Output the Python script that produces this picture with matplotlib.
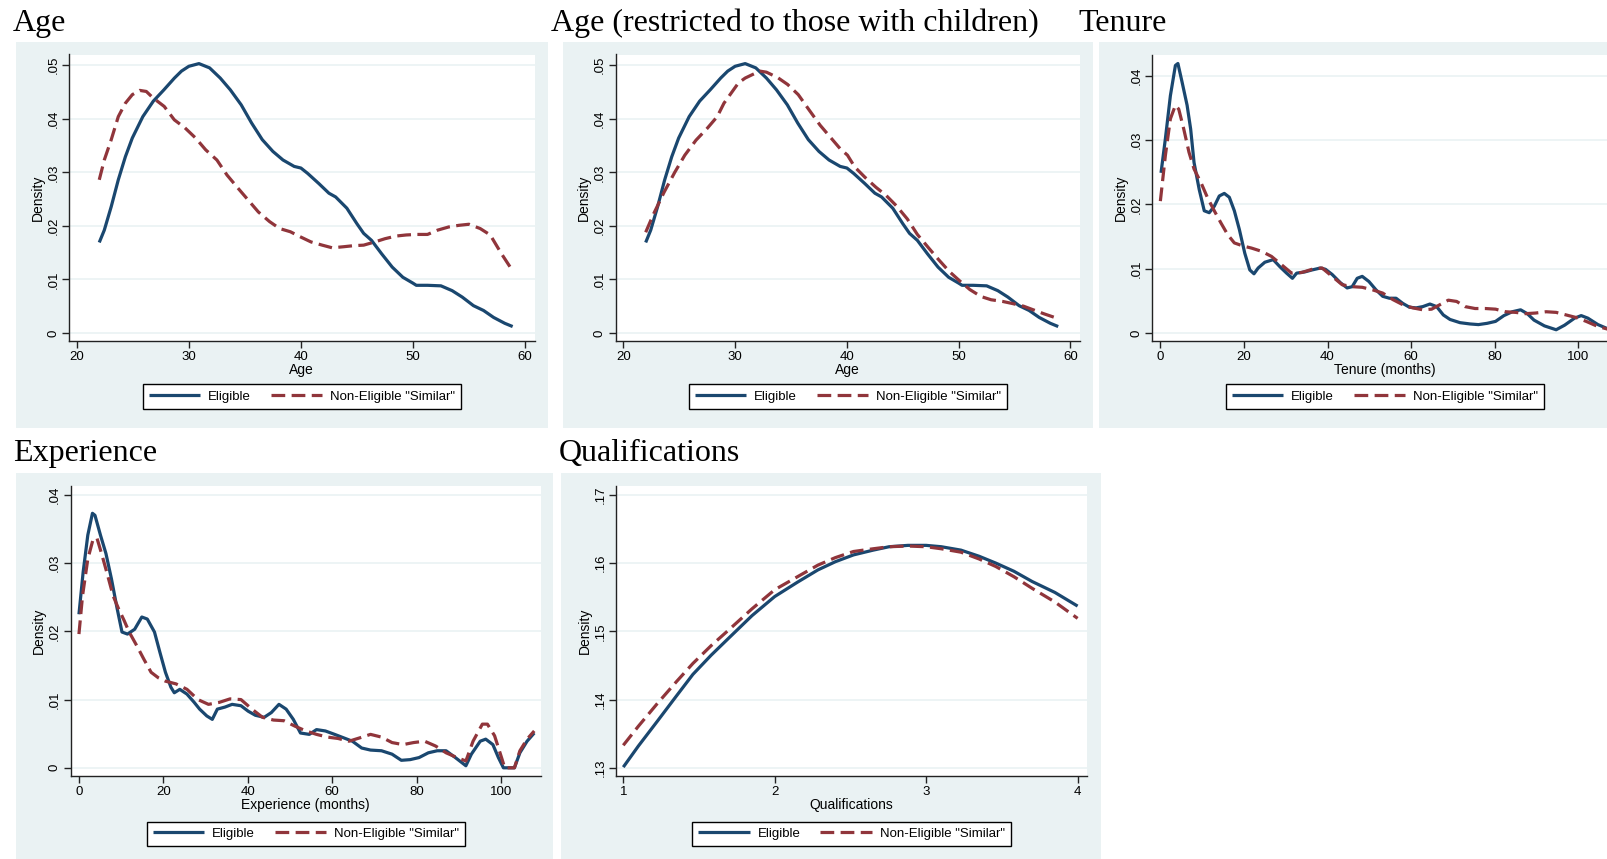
import matplotlib
matplotlib.use("Agg")
import matplotlib.pyplot as plt
from matplotlib.patches import Rectangle

W, H = 1607, 859
BG = "#EAF2F3"
NAVY = "#1A476F"
MAROON = "#90353B"
SANS = "Liberation Sans"
SERIF = "Liberation Serif"

# ---- data ----
age_x_elig = [22.0, 22.45, 23.07, 23.7, 24.33, 24.95, 25.89, 26.83, 27.77, 28.71, 29.34, 30.0,
              30.9, 31.85, 32.8, 33.7, 34.67, 35.6, 36.55, 37.5, 38.4, 39.4, 40.0, 40.6, 41.6,
              42.5, 43.1, 44.1, 45.0, 45.6, 46.3, 47.2, 48.15, 49.1, 50.0, 50.3, 51.3, 52.5,
              53.5, 54.4, 55.4, 56.3, 57.2, 58.2, 58.9]
age_y_elig = [.0169, .0192, .0236, .0286, .0329, .0364, .0404, .0433, .0454, .0476, .0489, .0498,
              .0503, .0495, .0476, .0454, .0426, .0392, .0361, .0339, .0323, .0311, .0308, .0298,
              .0279, .0261, .0254, .0233, .0204, .0186, .0173, .0148, .0123, .0104, .0093, .0089,
              .0089, .0088, .0079, .0067, .0051, .0042, .0029, .0018, .0012]

age_x_non = [22.0, 22.45, 23.07, 23.7, 24.33, 24.95, 25.6, 26.2, 26.8, 27.8, 28.7, 29.65, 30.6,
             31.5, 32.5, 33.4, 34.4, 35.3, 36.2, 37.2, 38.1, 39.06, 40.0, 40.9, 41.9, 42.8, 43.8,
             44.7, 45.6, 46.6, 47.5, 48.5, 49.4, 50.3, 51.3, 52.2, 53.2, 54.1, 55.0, 56.0, 56.9,
             57.9, 58.9]
age_y_non = [.0286, .0323, .0361, .0404, .0429, .0445, .0453, .0451, .0439, .0423, .0398, .0383,
             .0364, .0342, .0323, .0295, .0270, .0248, .0226, .0208, .0195, .0189, .0179, .0170,
             .0164, .0159, .0161, .0163, .0164, .0170, .0176, .0181, .0183, .0184, .0184, .0192,
             .0198, .0201, .0203, .0195, .0183, .0148, .0116]

agek_x_non = [22.0, 22.7, 23.65, 24.6, 25.5, 26.5, 27.5, 28.4, 29.0, 29.65, 30.3, 30.9, 31.5,
              32.2, 32.8, 33.8, 34.7, 35.65, 36.6, 37.6, 38.5, 39.4, 40.05, 40.7, 41.6, 42.6,
              43.5, 44.4, 45.4, 46.3, 47.3, 48.2, 49.15, 50.1, 51.0, 52.0, 52.9, 53.9, 54.8,
              55.8, 56.7, 57.6, 59.0]
agek_y_non = [.0188, .0222, .0263, .0300, .0332, .0360, .0382, .0404, .0429, .0448, .0467, .0476,
              .0482, .0489, .0487, .0477, .0464, .0445, .0417, .0388, .0366, .0344, .0332, .0310,
              .0291, .0272, .0257, .0238, .0213, .0184, .0159, .0137, .0115, .0097, .0081, .0068,
              .0062, .0059, .0055, .0050, .0043, .0036, .0026]

ten_x_elig = [0.16, 1.2, 2.4, 3.6, 4.2, 5.2, 6.4, 7.25, 8.06, 9.3, 10.5, 11.7, 12.9, 14.1, 15.3,
              16.5, 17.7, 18.9, 20.2, 21.4, 22.4, 23.4, 25.0, 27.0, 28.6, 30.2, 31.6, 32.6, 34.6,
              36.3, 38.3, 39.5, 41.1, 43.1, 44.7, 45.9, 47.1, 48.3, 49.9, 51.6, 53.2, 54.8, 56.4,
              58.0, 59.6, 61.2, 62.8, 64.5, 66.1, 67.7, 69.3, 71.7, 74.1, 76.1, 78.2, 80.2, 82.2,
              84.2, 86.2, 87.8, 89.4, 91.9, 94.7, 96.7, 99.1, 100.7, 102.3, 104.7, 107.6, 108.0]
ten_y_elig = [.0249, .0302, .0369, .0416, .0419, .0390, .0354, .0317, .0265, .0223, .0190, .0187,
              .0197, .0213, .0217, .0211, .0190, .0161, .0124, .0098, .0092, .0101, .0110, .0114,
              .0103, .0093, .0085, .0093, .0095, .0098, .0101, .0099, .0091, .0078, .0070, .0072,
              .0085, .0088, .0080, .0067, .0057, .0054, .0054, .0046, .0040, .0039, .0041, .0045,
              .0041, .0028, .0021, .0016, .0014, .0013, .0015, .0018, .0027, .0033, .0036, .0030,
              .0020, .0011, .0005, .0012, .0023, .0027, .0023, .0013, .0005, .0004]

ten_x_non = [0.0, 1.2, 2.4, 3.6, 4.4, 5.6, 6.85, 8.06, 9.7, 11.3, 12.9, 14.5, 16.1, 17.7, 19.9,
             21.8, 24.2, 26.6, 29.0, 31.4, 33.8, 36.3, 38.7, 41.1, 43.5, 45.9, 48.3, 50.8, 53.2,
             55.6, 58.0, 60.4, 62.8, 64.9, 66.9, 68.9, 70.9, 72.9, 75.3, 77.8, 80.2, 82.6, 85.0,
             87.4, 89.8, 92.3, 94.7, 97.1, 99.5, 101.9, 104.7, 107.6, 108.0]
ten_y_non = [.0205, .0276, .0333, .0354, .0348, .0317, .0281, .0255, .0234, .0210, .0190, .0171,
             .0153, .0140, .0135, .0132, .0127, .0119, .0106, .0093, .0094, .0099, .0101, .0088,
             .0075, .0072, .0071, .0067, .0062, .0052, .0044, .0039, .0036, .0037, .0044, .0051,
             .0049, .0041, .0038, .0038, .0037, .0033, .0032, .0030, .0031, .0033, .0032, .0028,
             .0024, .0018, .0010, .0005, .0004]

exp_x_elig = [0.0, 1.0, 2.1, 3.2, 3.8, 5.1, 6.4, 7.7, 9.0, 10.2, 11.5, 13.2, 14.9, 16.2, 17.9,
              19.2, 20.5, 21.8, 22.6, 23.9, 25.6, 27.3, 28.6, 30.3, 31.6, 32.8, 34.6, 36.3, 38.4,
              40.1, 41.8, 43.9, 45.6, 47.4, 49.1, 50.8, 52.5, 54.6, 56.3, 58.4, 60.6, 62.7, 64.8,
              67.0, 69.1, 71.7, 74.2, 76.4, 78.5, 80.6, 82.8, 84.9, 87.0, 89.2, 91.7, 93.0, 95.1,
              96.4, 98.1, 99.4, 100.6, 103.2, 104.5, 106.2, 107.9]
exp_y_elig = [.0225, .0287, .0341, .0373, .0370, .0341, .0314, .0277, .0235, .0199, .0196, .0203,
              .0221, .0218, .0199, .0169, .0140, .0118, .0110, .0115, .0108, .0096, .0086, .0076,
              .0071, .0086, .0089, .0093, .0091, .0083, .0077, .0074, .0081, .0093, .0086, .0071,
              .0051, .0049, .0056, .0054, .0049, .0044, .0039, .0029, .0026, .0025, .0020, .0011,
              .0012, .0015, .0022, .0025, .0025, .0015, .0003, .0020, .0039, .0042, .0034, .0015,
              .0000, .0000, .0022, .0039, .0051]

exp_x_non = [0.0, 0.85, 2.1, 3.4, 4.3, 5.5, 6.8, 8.1, 9.4, 10.7, 11.9, 13.7, 15.4, 17.1, 18.8,
             20.5, 23.0, 25.6, 28.2, 30.7, 33.3, 35.8, 38.4, 41.0, 43.5, 46.1, 48.6, 51.2, 53.8,
             56.3, 58.9, 61.4, 64.0, 66.6, 69.1, 71.7, 74.2, 76.8, 79.3, 81.9, 84.5, 87.0, 89.6,
             91.7, 93.4, 95.6, 96.8, 98.5, 100.3, 100.9, 103.2, 104.5, 106.2, 107.9]
exp_y_non = [.0196, .0252, .0306, .0336, .0336, .0311, .0282, .0252, .0233, .0216, .0199, .0179,
             .0159, .0140, .0132, .0127, .0123, .0115, .0100, .0093, .0096, .0101, .0100, .0086,
             .0074, .0070, .0069, .0061, .0054, .0049, .0045, .0043, .0039, .0044, .0049, .0045,
             .0037, .0034, .0037, .0039, .0032, .0022, .0015, .0010, .0039, .0064, .0064, .0047,
             .0012, .0000, .0000, .0025, .0042, .0054]

qual_x = [1.0, 1.1, 1.224, 1.35, 1.46, 1.58, 1.696, 1.85, 2.0, 2.15, 2.285, 2.4, 2.52, 2.65,
          2.755, 2.88, 3.0, 3.1, 3.23, 3.35, 3.46, 3.58, 3.70, 3.85, 4.0]
qual_y_elig = [.1301, .1332, .1368, .1405, .1437, .1465, .1490, .1523, .1551, .1572, .1590, .1602,
               .1612, .1619, .1624, .1626, .1626, .1624, .1619, .1610, .1600, .1588, .1573, .1557,
               .1537]
qual_y_non = [.1333, .1361, .1394, .1426, .1453, .1479, .1502, .1533, .1561, .1580, .1597, .1608,
              .1617, .1621, .1624, .1625, .1624, .1621, .1616, .1606, .1595, .1580, .1563, .1543,
              .1519]

age_ticks = [20, 30, 40, 50, 60]
month_ticks = [0, 20, 40, 60, 80, 100]
qual_ticks = [1, 2, 3, 4]
dens_ticks_05 = [0, .01, .02, .03, .04, .05]
dens_ticks_04 = [0, .01, .02, .03, .04]
qual_yticks = [.13, .14, .15, .16, .17]


def fmt(v):
    s = "%g" % v
    return s[1:] if s.startswith("0.") else s


fig = plt.figure(figsize=(W / 100, H / 100), dpi=100)
fig.patch.set_facecolor("white")


def bg_rect(l, t, r, b):
    fig.add_artist(Rectangle((l / W, 1 - b / H), (r - l) / W, (b - t) / H,
                             transform=fig.transFigure, facecolor=BG, edgecolor="none", zorder=-5))


def panel(box, title, title_xy, xe, ye, xn, yn, xlim, ylim, xticks, yticks, xlabel, legend_y):
    l, t, r, b = box
    ax = fig.add_axes([l / W, 1 - b / H, (r - l) / W, (b - t) / H])
    ax.set_facecolor("white")
    for s in ["top", "right"]:
        ax.spines[s].set_visible(False)
    for s in ["left", "bottom"]:
        ax.spines[s].set_linewidth(1.0)
        ax.spines[s].set_color("#222222")
    ax.set_axisbelow(True)
    ax.grid(axis="y", color=BG, linewidth=1.2)
    ax.plot(xe, ye, color=NAVY, lw=2.3, label="Eligible", solid_capstyle="butt")
    ax.plot(xn, yn, color=MAROON, lw=2.3, dashes=(4.3, 2.0), label='Non-Eligible "Similar"')
    ax.set_xlim(*xlim)
    ax.set_ylim(*ylim)
    ax.set_xticks(xticks)
    ax.set_xticklabels([fmt(v) for v in xticks], fontsize=9.5, family=SANS)
    ax.set_yticks(yticks)
    ax.set_yticklabels([fmt(v) for v in yticks], fontsize=9.5, family=SANS,
                       rotation=90, va="center")
    ax.tick_params(length=5, width=1, color="#222222", pad=2)
    ax.set_xlabel(xlabel, fontsize=10, family=SANS, labelpad=0)
    ax.set_ylabel("Density", fontsize=10, family=SANS, labelpad=2)
    cx = (l + r) / 2
    leg = ax.legend(loc="center", bbox_to_anchor=(cx / W, 1 - legend_y / H),
                    bbox_transform=fig.transFigure, ncol=2, frameon=True, fancybox=False,
                    edgecolor="black", prop={"family": SANS, "size": 9.5},
                    handlelength=3.9, handletextpad=0.6, columnspacing=1.5,
                    borderpad=0.45, framealpha=1)
    leg.get_frame().set_linewidth(1.0)
    fig.text(title_xy[0] / W, 1 - title_xy[1] / H, title, family=SERIF, fontsize=23,
             ha="left", va="baseline")
    return ax


# backgrounds
bg_rect(15.5, 42, 548, 427.5)
bg_rect(563, 42, 1093, 427.5)
bg_rect(1099, 42, 1620, 427.5)
bg_rect(15.5, 472.5, 553, 870)
bg_rect(561, 472.5, 1101, 870)

panel((69, 54.5, 534.5, 341), "Age", (13, 31), age_x_elig, age_y_elig, age_x_non, age_y_non,
      (19.3, 60.85), (-0.0015, 0.052), age_ticks, dens_ticks_05, "Age", 396.5)
panel((615.5, 54.5, 1080, 341), "Age (restricted to those with children)", (551, 31),
      age_x_elig, age_y_elig, agek_x_non, agek_y_non,
      (19.3, 60.85), (-0.0015, 0.052), age_ticks, dens_ticks_05, "Age", 396.5)
panel((1152, 54.5, 1618, 341), "Tenure", (1078, 31), ten_x_elig, ten_y_elig, ten_x_non, ten_y_non,
      (-2, 109.5), (-0.00125, 0.0433), month_ticks, dens_ticks_04, "Tenure (months)", 396.5)
panel((70.5, 486, 541, 776), "Experience", (13, 461.5), exp_x_elig, exp_y_elig, exp_x_non, exp_y_non,
      (-2, 109.5), (-0.0012, 0.0413), month_ticks, dens_ticks_04, "Experience (months)", 833.7)
panel((616, 486, 1087, 776), "Qualifications", (558.5, 461.5), qual_x, qual_y_elig, qual_x, qual_y_non,
      (0.952, 4.062), (0.1288, 0.1713), qual_ticks, qual_yticks, "Qualifications", 833.7)

fig.savefig("out.png", dpi=100)
